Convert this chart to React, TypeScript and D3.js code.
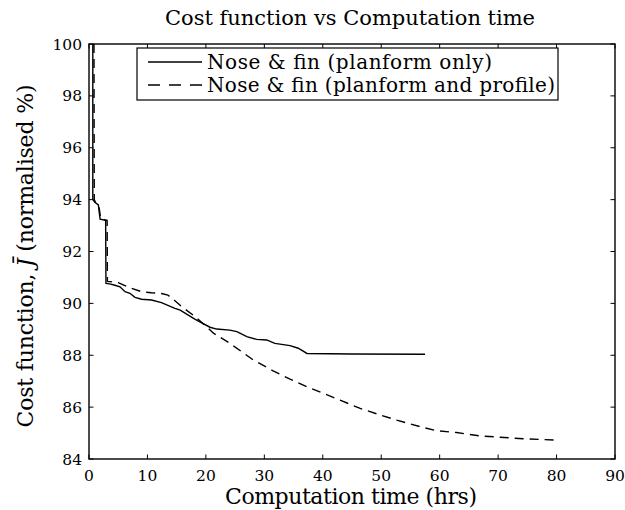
import React from "react";
import * as d3 from "d3";

const solidX = [0.65, 0.65, 1.0, 1.6, 1.9, 2.85, 2.9, 3.5, 4.45, 5.3, 6.16, 7.0, 7.87, 9.0, 10.7, 12.4, 14.7, 15.6, 18.1, 20.7, 21.85, 24.1, 25.3, 27.0, 28.7, 30.4, 31.8, 34.4, 35.8, 37.3, 45, 57.5];
const solidY = [100, 94.0, 93.9, 93.8, 93.25, 93.2, 90.77, 90.75, 90.7, 90.64, 90.45, 90.39, 90.23, 90.16, 90.13, 90.03, 89.81, 89.74, 89.39, 89.08, 89.01, 88.97, 88.91, 88.72, 88.61, 88.59, 88.46, 88.37, 88.27, 88.07, 88.05, 88.04];

const dashedX = [0.85, 0.9, 1.2, 1.7, 2.0, 3.1, 3.15, 5.0, 7.0, 9.0, 10.7, 12.4, 13.5, 14.7, 16, 18.1, 20.1, 21.3, 24.1, 28.1, 31.5, 34.4, 37.25, 40.1, 42.95, 46.4, 49.8, 52.65, 56.6, 59.5, 62.9, 66.9, 70.3, 74.3, 80];
const dashedY = [100, 94.0, 93.85, 93.75, 93.25, 93.2, 90.85, 90.8, 90.6, 90.45, 90.41, 90.38, 90.32, 90.1, 89.85, 89.5, 89.1, 88.85, 88.46, 87.82, 87.4, 87.08, 86.79, 86.53, 86.27, 85.95, 85.7, 85.5, 85.25, 85.09, 85.02, 84.89, 84.84, 84.78, 84.73];

const xTicks = [0, 10, 20, 30, 40, 50, 60, 70, 80, 90];
const yTicks = [84, 86, 88, 90, 92, 94, 96, 98, 100];
const seriesNames = ["Nose & fin (planform only)", "Nose & fin (planform and profile)"];
const title = "Cost function vs Computation time";
const xLabel = "Computation time (hrs)";

const W = 625, H = 510;
const L = 89, R = 615, T = 44, B = 459;
const FONT = "'DejaVu Serif', 'Liberation Serif', serif";

export default function App() {
  const x = d3.scaleLinear().domain([0, 90]).range([L, R]);
  const y = d3.scaleLinear().domain([84, 100]).range([B, T]);
  const line = d3.line<[number, number]>().x(d => x(d[0])).y(d => y(d[1]));
  const solid = solidX.map((v, i) => [v, solidY[i]] as [number, number]);
  const dashed = dashedX.map((v, i) => [v, dashedY[i]] as [number, number]);
  const tl = 4.5;
  return (
    <svg width={W} height={H} style={{ position: "absolute", left: 0, top: 0, background: "#fff" }} fontFamily={FONT}>
      <rect x={0} y={0} width={W} height={H} fill="#fff" />
      <defs>
        <clipPath id="plot"><rect x={L} y={T} width={R - L} height={B - T} /></clipPath>
      </defs>
      <g clipPath="url(#plot)" fill="none" stroke="#000" strokeWidth={1.4}>
        <path d={line(dashed) || ""} strokeDasharray="9,6" />
        <path d={line(solid) || ""} />
      </g>
      <g stroke="#000" strokeWidth={1}>
        {xTicks.map(t => (
          <g key={"x" + t}>
            <line x1={x(t)} x2={x(t)} y1={B} y2={B - tl} />
            <line x1={x(t)} x2={x(t)} y1={T} y2={T + tl} />
          </g>
        ))}
        {yTicks.map(t => (
          <g key={"y" + t}>
            <line x1={L} x2={L + tl} y1={y(t)} y2={y(t)} />
            <line x1={R} x2={R - tl} y1={y(t)} y2={y(t)} />
          </g>
        ))}
      </g>
      <rect x={L} y={T} width={R - L} height={B - T} fill="none" stroke="#000" strokeWidth={1.4} />
      <g fontSize={15.5} fill="#000">
        {xTicks.map(t => (
          <text key={"xl" + t} x={x(t)} y={B + 22} textAnchor="middle">{t}</text>
        ))}
        {yTicks.map(t => (
          <text key={"yl" + t} x={L - 7} y={y(t) + 5.5} textAnchor="end">{t}</text>
        ))}
      </g>
      <text x={350} y={25} textAnchor="middle" fontSize={21} textLength={370}>{title}</text>
      <text x={351} y={504} textAnchor="middle" fontSize={22} textLength={252}>{xLabel}</text>
      <text transform={`translate(33,256) rotate(-90)`} textAnchor="middle" fontSize={22} textLength={343}>
        Cost function, <tspan fontStyle="italic">J{"\u0304"}</tspan> (normalised %)
      </text>
      <g fill="#000">
        <rect x={137} y={48} width={421} height={52} fill="#fff" stroke="#000" strokeWidth={1.2} />
        <line x1={148} x2={202} y1={62} y2={62} stroke="#000" strokeWidth={1.4} />
        <line x1={148} x2={202} y1={85} y2={85} stroke="#000" strokeWidth={1.4} strokeDasharray="12,9" />
        <text x={207} y={69} fontSize={20} textLength={285}>{seriesNames[0]}</text>
        <text x={207} y={92} fontSize={20} textLength={348}>{seriesNames[1]}</text>
      </g>
    </svg>
  );
}
